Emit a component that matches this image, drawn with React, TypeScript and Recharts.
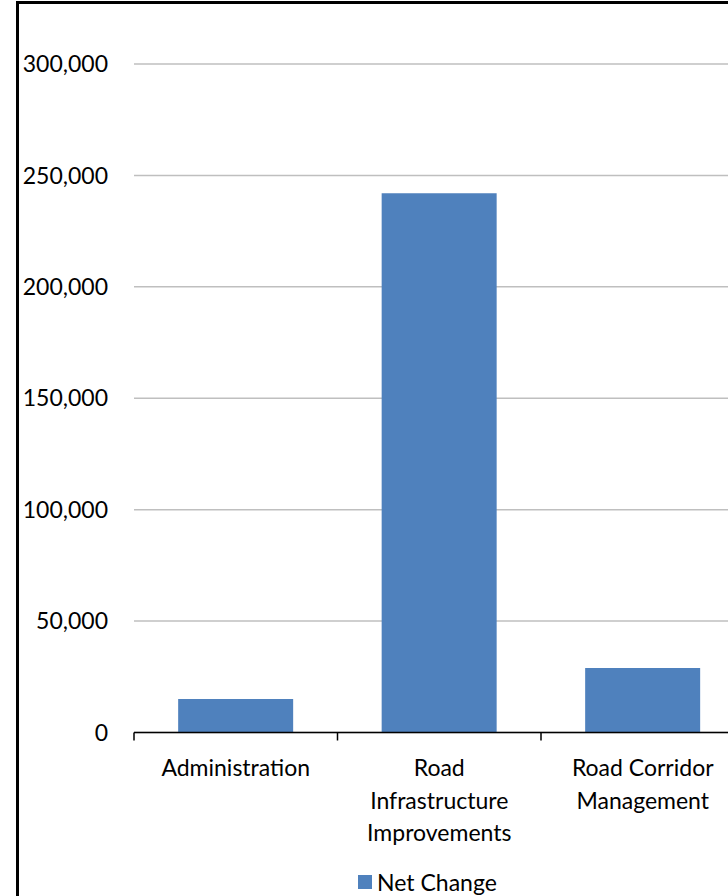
import React from "react";
import { BarChart, Bar, XAxis, YAxis, CartesianGrid, Legend } from "recharts";

const categories = ["Administration", "Road Infrastructure Improvements", "Road Corridor Management"];
const categoryLabelLines = [["Administration"], ["Road", "Infrastructure", "Improvements"], ["Road Corridor", "Management"]];
const netChange = [15000, 242000, 29000];
const yTicks = [0, 50000, 100000, 150000, 200000, 250000, 300000];
const seriesName = "Net Change";

const data = categories.map((c, i) => ({ name: c, value: netChange[i] }));

const FONT = "Lato, 'Open Sans', sans-serif";
const FS = 23;
const CHART_W = 817;
const CHART_H = 900;

const CategoryTick = (props: any) => {
  const { x, y, payload, index } = props;
  const off = payload && payload.offset ? payload.offset : 0;
  const lines = categoryLabelLines[index] || [String(payload.value)];
  const y0 = y - 8;
  return (
    <g>
      <line x1={x - off} y1={y0} x2={x - off} y2={y0 + 8} stroke="#000" strokeWidth={1.5} />
      {index === categories.length - 1 && (
        <line x1={x + off} y1={y0} x2={x + off} y2={y0 + 8} stroke="#000" strokeWidth={1.5} />
      )}
      {lines.map((l: string, i: number) => (
        <text
          key={i}
          x={x}
          y={y0 + 34.5 + i * 32.5}
          textAnchor="middle"
          dominantBaseline="central"
          fontFamily={FONT}
          fontSize={FS}
          fill="#000"
        >
          {l}
        </text>
      ))}
    </g>
  );
};

const LegendContent = () => (
  <div
    style={{
      display: "flex",
      justifyContent: "center",
      alignItems: "center",
      height: 20,
      fontFamily: FONT,
      fontSize: FS,
      color: "#000",
    }}
  >
    <span style={{ display: "inline-block", width: 14, height: 14, background: "#4f81bd", marginRight: 5 }} />
    <span>{seriesName}</span>
  </div>
);

export default function App() {
  return (
    <div style={{ position: "absolute", left: 0, top: 0, width: 728, height: 896, overflow: "hidden", background: "#fff" }}>
      <div
        style={{
          position: "absolute",
          left: 16,
          top: 1,
          border: "3px solid #000",
          width: CHART_W,
          height: CHART_H,
          background: "#fff",
        }}
      >
        <BarChart
          width={CHART_W}
          height={CHART_H}
          data={data}
          margin={{ top: 60, right: 91.5, left: 0, bottom: 12 }}
          barCategoryGap="21.7%"
        >
          <CartesianGrid vertical={false} stroke="#bfbfbf" strokeWidth={1.5} />
          <XAxis
            dataKey="name"
            height={139.5}
            interval={0}
            tickLine={false}
            axisLine={{ stroke: "#000", strokeWidth: 1.7 }}
            tick={<CategoryTick />}
          />
          <YAxis
            width={115}
            domain={[0, 300000]}
            ticks={yTicks}
            axisLine={false}
            tickLine={false}
            tickSize={0}
            tickMargin={26}
            tickFormatter={(v: number) => v.toLocaleString("en-US")}
            tick={{ fontFamily: FONT, fontSize: FS, fill: "#000" }}
          />
          <Legend
            verticalAlign="bottom"
            content={<LegendContent />}
            wrapperStyle={{ left: 0, width: CHART_W, bottom: 12, height: 20 }}
          />
          <Bar dataKey="value" name={seriesName} fill="#4f81bd" isAnimationActive={false} />
        </BarChart>
      </div>
    </div>
  );
}
